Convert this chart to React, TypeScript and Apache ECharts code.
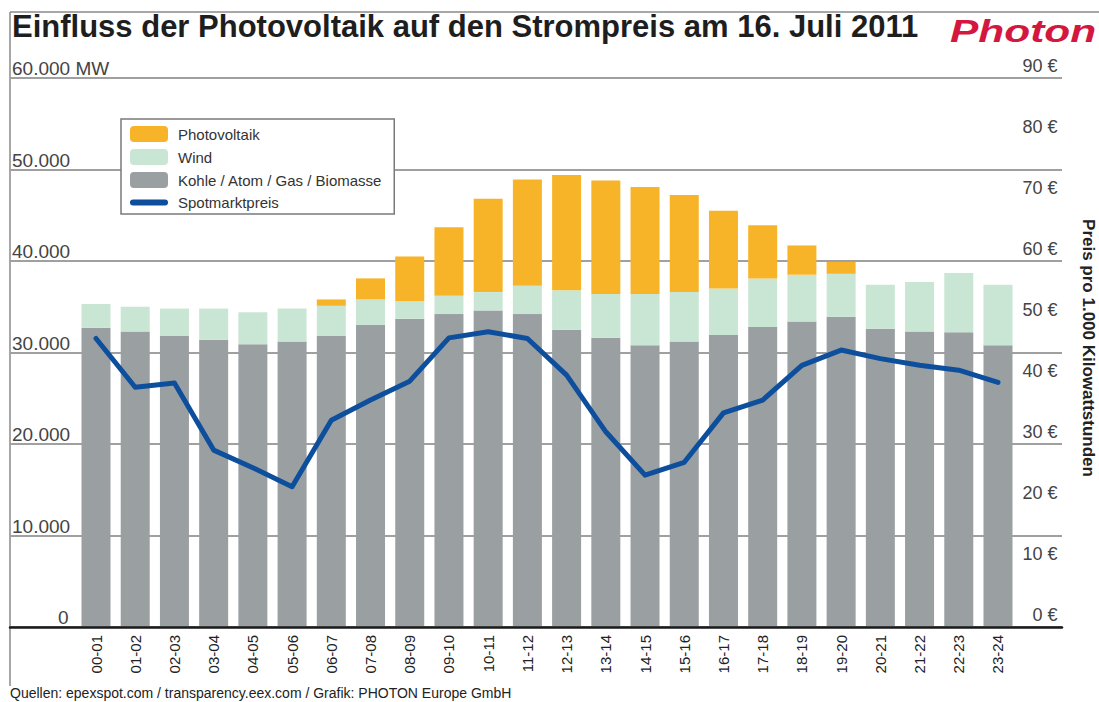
import React, { useEffect, useRef } from "react";
import * as echarts from "echarts";

const categories = [
  "00-01", "01-02", "02-03", "03-04", "04-05", "05-06", "06-07", "07-08",
  "08-09", "09-10", "10-11", "11-12", "12-13", "13-14", "14-15", "15-16",
  "16-17", "17-18", "18-19", "19-20", "20-21", "21-22", "22-23", "23-24",
];

// MW
const kohle = [
  32700, 32300, 31800, 31400, 30900, 31200, 31800, 33000, 33700, 34200, 34600, 34200,
  32500, 31600, 30800, 31200, 31900, 32800, 33400, 33900, 32600, 32300, 32200, 30800,
];
const wind = [
  2600, 2700, 3000, 3400, 3500, 3600, 3300, 2800, 1900, 2000, 2000, 3100,
  4300, 4800, 5600, 5400, 5100, 5300, 5100, 4700, 4800, 5400, 6500, 6600,
];
const photovoltaik = [
  0, 0, 0, 0, 0, 0, 700, 2300, 4900, 7500, 10200, 11600,
  12600, 12400, 11700, 10600, 8500, 5800, 3200, 1300, 0, 0, 0, 0,
];
// € per 1,000 kWh
const spotmarktpreis = [
  47.3, 39.3, 40.0, 29.0, 26.1, 23.0, 33.9, 37.2, 40.3, 47.4, 48.4, 47.3,
  41.3, 32.0, 24.9, 27.0, 35.1, 37.2, 42.9, 45.4, 44.0, 42.9, 42.1, 40.1,
];

const leftTickLabels = ["0", "10.000", "20.000", "30.000", "40.000", "50.000", "60.000 MW"];
const rightTickLabels = ["0 €", "10 €", "20 €", "30 €", "40 €", "50 €", "60 €", "70 €", "80 €", "90 €"];

const seriesNames = ["Photovoltaik", "Wind", "Kohle / Atom / Gas / Biomasse", "Spotmarktpreis"];

const FONT = "'Liberation Sans', Arial, sans-serif";
const PILL = "path://M3,0 L35,0 A3,3 0 0 1 35,6 L3,6 A3,3 0 0 1 3,0 Z";

export default function App() {
  const ref = useRef<HTMLDivElement>(null);

  useEffect(() => {
    if (!ref.current) return;
    const chart = echarts.init(ref.current, null, { renderer: "svg" });

    const option: any = {
      animation: false,
      backgroundColor: "#ffffff",
      textStyle: { fontFamily: FONT },
      grid: [
        { left: 10, right: 37, top: 78, bottom: 75 },
        { left: 76.4, right: 81.4, top: 78, bottom: 75 },
      ],
      legend: {
        data: [
          { name: seriesNames[0] },
          { name: seriesNames[1] },
          { name: seriesNames[2] },
          { name: seriesNames[3], icon: PILL },
        ],
        orient: "vertical",
        left: 121,
        top: 119,
        itemWidth: 38,
        itemHeight: 16,
        itemGap: 7,
        symbolKeepAspect: true,
        padding: [7, 12, 4, 9],
        backgroundColor: "#ffffff",
        borderColor: "#7a7a7a",
        borderWidth: 1.5,
        textStyle: { fontSize: 15, color: "#333333", fontFamily: FONT, padding: [0, 0, 0, 5] },
        selectedMode: false,
      },
      xAxis: [
        {
          gridIndex: 0,
          type: "value",
          min: 0,
          max: 1,
          z: 10,
          axisLine: { show: true, lineStyle: { color: "#1a1a1a", width: 2.5 } },
          axisTick: { show: false },
          axisLabel: { show: false },
          splitLine: { show: false },
        },
        {
          gridIndex: 1,
          type: "category",
          data: categories,
          axisLine: { show: false },
          axisTick: { show: false },
          axisLabel: {
            rotate: 90,
            margin: 8,
            fontSize: 15,
            color: "#222222",
            fontFamily: FONT,
            interval: 0,
          },
        },
      ],
      yAxis: [
        {
          gridIndex: 0,
          type: "value",
          min: 0,
          max: 60000,
          interval: 10000,
          axisLine: { show: false },
          axisTick: { show: false },
          splitLine: { show: true, lineStyle: { color: "#a0a0a0", width: 2 } },
          axisLabel: {
            inside: true,
            margin: 2,
            align: "left",
            verticalAlign: "bottom",
            fontSize: 19,
            color: "#444444",
            fontFamily: FONT,
            formatter: (v: number) => {
              const i = Math.round(v / 10000);
              if (i === 0) return "{z|" + leftTickLabels[0] + "}";
              return leftTickLabels[i];
            },
            rich: {
              z: { fontSize: 19, color: "#444444", fontFamily: FONT, padding: [0, 0, 0, 46] },
            },
          },
        },
        {
          gridIndex: 1,
          type: "value",
          min: 0,
          max: 60000,
          show: false,
        },
        {
          gridIndex: 1,
          type: "value",
          position: "right",
          min: 0,
          max: 90,
          interval: 10,
          axisLine: { show: false },
          axisTick: { show: false },
          splitLine: { show: false },
          axisLabel: {
            margin: 40,
            align: "right",
            verticalAlign: "bottom",
            padding: [0, 0, 3, 0],
            fontSize: 18,
            color: "#444444",
            fontFamily: FONT,
            formatter: (v: number) => rightTickLabels[Math.round(v / 10)],
          },
        },
      ],
      series: [
        {
          name: seriesNames[2],
          type: "bar",
          xAxisIndex: 1,
          yAxisIndex: 1,
          stack: "mw",
          barWidth: 29,
          data: kohle,
          itemStyle: { color: "#9a9fa2" },
        },
        {
          name: seriesNames[1],
          type: "bar",
          xAxisIndex: 1,
          yAxisIndex: 1,
          stack: "mw",
          barWidth: 29,
          data: wind,
          itemStyle: { color: "#c9e6d4" },
        },
        {
          name: seriesNames[0],
          type: "bar",
          xAxisIndex: 1,
          yAxisIndex: 1,
          stack: "mw",
          barWidth: 29,
          data: photovoltaik,
          itemStyle: { color: "#f8b428" },
        },
        {
          name: seriesNames[3],
          type: "line",
          xAxisIndex: 1,
          yAxisIndex: 2,
          data: spotmarktpreis,
          symbol: "none",
          z: 5,
          lineStyle: { color: "#0e4f9d", width: 5, cap: "round", join: "round" },
          itemStyle: { color: "#0e4f9d" },
        },
      ],
      graphic: [
        {
          type: "line",
          shape: { x1: 10, y1: 12, x2: 1099, y2: 12 },
          style: { stroke: "#8a8a8a", lineWidth: 1.5 },
        },
        {
          type: "line",
          shape: { x1: 10, y1: 12, x2: 10, y2: 686 },
          style: { stroke: "#8a8a8a", lineWidth: 1.5 },
        },
        {
          type: "text",
          x: 12,
          y: 26.5,
          style: {
            text: "Einfluss der Photovoltaik auf den Strompreis am 16. Juli 2011",
            fill: "#1e1e1e",
            font: "bold 31px " + FONT,
            textAlign: "left",
            textVerticalAlign: "middle",
          },
        },
        {
          type: "text",
          x: 950,
          y: 31.5,
          scaleX: 1.37,
          style: {
            text: "Photon",
            fill: "#d4173f",
            font: "italic bold 31px " + FONT,
            textAlign: "left",
            textVerticalAlign: "middle",
          },
        },
        {
          type: "text",
          x: 1088,
          y: 348,
          rotation: -Math.PI / 2,
          style: {
            text: "Preis pro 1.000 Kilowattstunden",
            fill: "#222222",
            font: "bold 17px " + FONT,
            textAlign: "center",
            textVerticalAlign: "middle",
          },
        },
        {
          type: "text",
          x: 10,
          y: 693,
          style: {
            text: "Quellen: epexspot.com / transparency.eex.com / Grafik: PHOTON Europe GmbH",
            fill: "#222222",
            font: "14px " + FONT,
            textAlign: "left",
            textVerticalAlign: "middle",
          },
        },
      ],
    };

    chart.setOption(option);
    return () => chart.dispose();
  }, []);

  return (
    <div
      ref={ref}
      style={{ position: "absolute", left: 0, top: 0, width: 1099, height: 702 }}
    />
  );
}
